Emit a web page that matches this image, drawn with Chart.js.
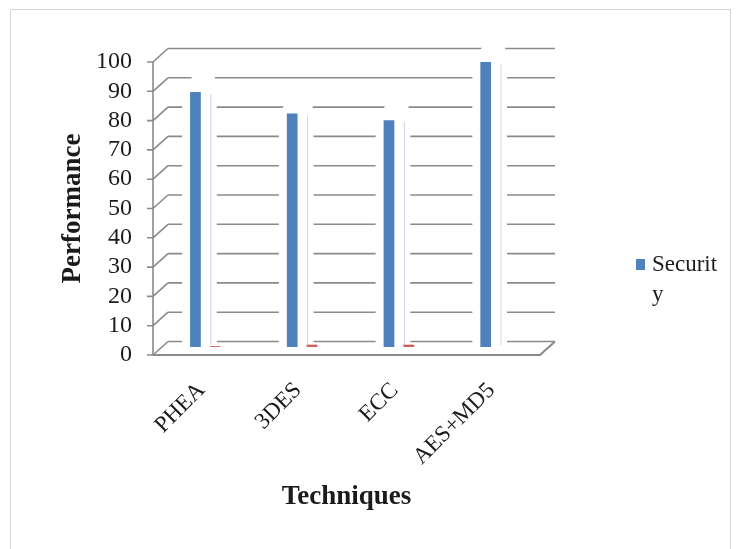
<!DOCTYPE html>
<html>
<head>
<meta charset="utf-8">
<script src="https://cdn.jsdelivr.net/npm/chart.js@4.4.1/dist/chart.umd.min.js"></script>
<style>
  html, body { margin: 0; padding: 0; background: #fff; }
  #wrap { width: 739px; height: 549px; position: relative; }
</style>
</head>
<body>
<div id="wrap"><canvas id="c" width="739" height="549"></canvas></div>
<script>
// Techniques on the category axis
const categories = ['PHEA', '3DES', 'ECC', 'AES+MD5'];
// Security performance per technique
const securityValues = [87, 79.7, 77.4, 97.3];
// Second series (tiny values, not listed in the legend)
const secondaryValues = [0.3, 0.8, 0.8, 0];
// Value axis ticks
const yTickValues = [0, 10, 20, 30, 40, 50, 60, 70, 80, 90, 100];
const seriesNames = ['Security', ''];

const FONT = '"Liberation Serif", "Times New Roman", serif';
const TEXT = '#1b1b1b';
const GRID = '#8a8a8a';
const BLUE = '#4f81bd';
const RED = '#d0605c';

// pseudo-3D geometry: back wall offset from the front axis, and bar depth offset
const WALL_DX = 15, WALL_DY = -13.5;
const BAR_DX = 4, BAR_DY = -8;

const pseudo3d = {
  id: 'pseudo3d',
  beforeDraw(chart) {
    const ctx = chart.ctx;
    ctx.save();
    ctx.fillStyle = '#fff';
    ctx.fillRect(0, 0, chart.width, chart.height);
    ctx.strokeStyle = '#d6d6d6';
    ctx.lineWidth = 1;
    ctx.strokeRect(10.5, 9.5, 720, 600);
    ctx.restore();
  },
  beforeDatasetsDraw(chart) {
    const ctx = chart.ctx;
    const ys = chart.scales.y;
    const { left, right, bottom } = chart.chartArea;
    ctx.save();
    ctx.strokeStyle = GRID;
    ctx.lineWidth = 1.6;
    // back wall gridlines, side-wall diagonals and tick marks
    yTickValues.forEach(v => {
      const yf = ys.getPixelForValue(v);
      const yb = yf + WALL_DY;
      ctx.beginPath();
      ctx.moveTo(left + WALL_DX, yb);
      ctx.lineTo(right + WALL_DX, yb);
      ctx.moveTo(left, yf);
      ctx.lineTo(left + WALL_DX, yb);
      ctx.moveTo(left - 6, yf);
      ctx.lineTo(left, yf);
      ctx.stroke();
    });
    // front vertical axis
    ctx.beginPath();
    ctx.moveTo(left, ys.getPixelForValue(100));
    ctx.lineTo(left, bottom);
    ctx.stroke();

    // white top / side faces of the blue columns
    const meta = chart.getDatasetMeta(0);
    meta.data.forEach(bar => {
      const p = bar.getProps(['x', 'y', 'base', 'width'], true);
      const l = p.x - p.width / 2 + BAR_DX;
      const r = p.x + p.width / 2 + BAR_DX;
      const t = p.y + BAR_DY;
      const b = p.base + BAR_DY;
      ctx.fillStyle = '#fff';
      ctx.beginPath();
      ctx.moveTo(l - 8, b);
      ctx.lineTo(l - 8, t);
      ctx.lineTo(l + 2, t - 15);
      ctx.lineTo(r + 14, t - 15);
      ctx.lineTo(r + 16, t);
      ctx.lineTo(r + 16, b);
      ctx.closePath();
      ctx.fill();
      ctx.strokeStyle = '#c9d6ea';
      ctx.lineWidth = 1;
      ctx.beginPath();
      ctx.moveTo(r + 10, t + 2);
      ctx.lineTo(r + 10, b - 2);
      ctx.stroke();
    });

    // floor
    ctx.strokeStyle = GRID;
    ctx.lineWidth = 2;
    ctx.beginPath();
    ctx.moveTo(left, bottom);
    ctx.lineTo(right, bottom);
    ctx.lineTo(right + WALL_DX, bottom + WALL_DY);
    ctx.stroke();

    // columns sit halfway into the depth
    ctx.translate(BAR_DX, BAR_DY);
  },
  afterDatasetsDraw(chart) {
    chart.ctx.restore();
  },
  afterDraw(chart) {
    // legend: swatch and the series name wrapped into a narrow column
    const ctx = chart.ctx;
    ctx.save();
    ctx.fillStyle = BLUE;
    ctx.fillRect(636, 259, 9, 11);
    ctx.font = '23px ' + FONT;
    ctx.fillStyle = TEXT;
    ctx.textBaseline = 'middle';
    ctx.textAlign = 'left';
    const maxW = 68;
    const lines = [];
    let cur = '';
    for (const ch of seriesNames[0]) {
      if (ctx.measureText(cur + ch).width > maxW && cur) { lines.push(cur); cur = ch; }
      else cur += ch;
    }
    if (cur) lines.push(cur);
    lines.forEach((ln, i) => ctx.fillText(ln, 652, 265 + i * 30));
    ctx.restore();
  }
};

new Chart(document.getElementById('c'), {
  type: 'bar',
  data: {
    labels: categories,
    datasets: [
      { label: seriesNames[0], data: securityValues, backgroundColor: BLUE,
        categoryPercentage: 0.41, barPercentage: 0.54 },
      { label: seriesNames[1], data: secondaryValues, backgroundColor: RED,
        categoryPercentage: 0.41, barPercentage: 0.54 }
    ]
  },
  options: {
    responsive: false,
    devicePixelRatio: 1,
    animation: false,
    layout: { padding: { left: 20, top: 62, right: 199, bottom: 0 } },
    plugins: { legend: { display: false }, tooltip: { enabled: false } },
    scales: {
      x: {
        offset: true,
        grid: { display: false, drawTicks: false },
        border: { display: false },
        ticks: {
          font: { family: FONT, size: 23 }, color: TEXT,
          minRotation: 45, maxRotation: 45, autoSkip: false, padding: 22
        },
        title: {
          display: true, text: 'Techniques', color: TEXT,
          font: { family: FONT, size: 27, weight: 'bold' },
          padding: { top: 0, bottom: 36 }
        },
        afterFit(s) { s.height = 194; }
      },
      y: {
        min: 0, max: 100,
        grid: { display: false, drawTicks: false },
        border: { display: false },
        afterBuildTicks(s) { s.ticks = yTickValues.map(v => ({ value: v })); },
        ticks: { font: { family: FONT, size: 24 }, color: TEXT, padding: 21, autoSkip: false },
        title: {
          display: true, text: 'Performance', color: TEXT,
          font: { family: FONT, size: 27, weight: 'bold' },
          padding: { top: 37, bottom: 0 }
        },
        afterFit(s) { s.width = 133; }
      }
    }
  },
  plugins: [pseudo3d]
});
</script>
</body>
</html>
